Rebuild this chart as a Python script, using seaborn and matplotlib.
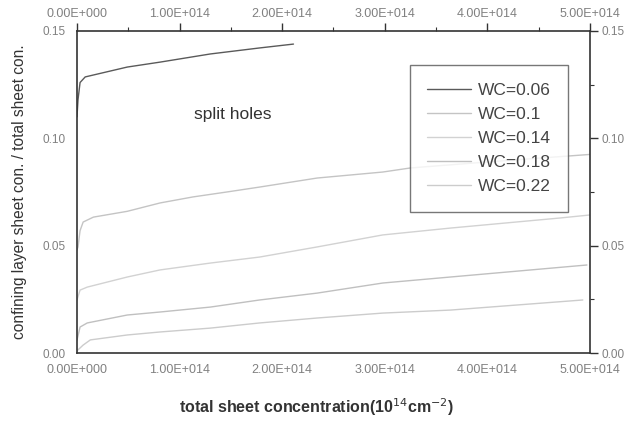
import numpy as np
import pandas as pd
import matplotlib
matplotlib.use("Agg")
import matplotlib.pyplot as plt
from matplotlib.ticker import MultipleLocator, FuncFormatter
from matplotlib.lines import Line2D
import seaborn as sns

# total sheet concentration in units of 1e14 cm^-2, confining-layer fraction
wc006_x = [0.0, 0.01, 0.03, 0.08, 0.49, 0.81, 1.30, 1.78, 2.11]
wc006_y = [0.110, 0.118, 0.126, 0.1286, 0.1332, 0.1355, 0.1393, 0.1421, 0.1439]

wc010_x = [0.0, 0.01, 0.03, 0.06, 0.16, 0.49, 0.81, 1.13, 1.46, 1.78, 2.34, 2.98, 3.25, 4.00, 5.00]
wc010_y = [0.048, 0.0494, 0.057, 0.061, 0.0633, 0.0660, 0.0699, 0.0727, 0.0750, 0.0773,
           0.0815, 0.0843, 0.0862, 0.0890, 0.0925]

wc014_x = [0.0, 0.03, 0.10, 0.49, 0.81, 1.30, 1.78, 2.34, 2.98, 3.64, 4.71, 5.00]
wc014_y = [0.0247, 0.0293, 0.0307, 0.0354, 0.0387, 0.0419, 0.0447, 0.0494, 0.0550, 0.0582,
           0.0629, 0.0643]

wc018_x = [0.0, 0.03, 0.10, 0.49, 0.81, 1.30, 1.78, 2.34, 2.98, 3.64, 4.97]
wc018_y = [0.006, 0.0121, 0.0140, 0.0177, 0.0191, 0.0214, 0.0247, 0.0279, 0.0326, 0.0354, 0.0410]

wc022_x = [0.0, 0.06, 0.13, 0.49, 0.81, 1.30, 1.78, 2.34, 2.98, 3.64, 4.93]
wc022_y = [0.001, 0.0037, 0.0061, 0.0084, 0.0098, 0.0116, 0.0140, 0.0163, 0.0186, 0.0200, 0.0247]

series_names = ["WC=0.06", "WC=0.1", "WC=0.14", "WC=0.18", "WC=0.22"]
series_x = [wc006_x, wc010_x, wc014_x, wc018_x, wc022_x]
series_y = [wc006_y, wc010_y, wc014_y, wc018_y, wc022_y]
line_colors = ["#5a5a5a", "#c4c4c4", "#d2d2d2", "#c0c0c0", "#cccccc"]

frames = []
for name, xs, ys in zip(series_names, series_x, series_y):
    frames.append(pd.DataFrame({"conc": np.array(xs) * 1e14, "ratio": ys, "WC": name}))
df = pd.concat(frames, ignore_index=True)

sns.set_style("white")
plt.rcParams["font.family"] = ["Liberation Sans", "DejaVu Sans"]

fig = plt.figure(figsize=(6.3, 4.21), dpi=100)
ax = fig.add_axes([0.1222, 0.1615, 0.8143, 0.7649])

palette = dict(zip(series_names, line_colors))
sns.lineplot(data=df, x="conc", y="ratio", hue="WC", palette=palette,
             linewidth=1.0, sort=False, estimator=None, legend=False, ax=ax)

ax.set_xlim(0, 5e14)
ax.set_ylim(0, 0.15)

ax.xaxis.set_major_locator(MultipleLocator(1e14))
ax.xaxis.set_minor_locator(MultipleLocator(0.5e14))
ax.yaxis.set_major_locator(MultipleLocator(0.05))
ax.yaxis.set_minor_locator(MultipleLocator(0.025))


def sci_fmt(v, pos):
    if v == 0:
        return "0.00E+000"
    exp = int(np.floor(np.log10(abs(v)) + 1e-9))
    return f"{v / 10**exp:.2f}E+{exp:03d}"


ax.xaxis.set_major_formatter(FuncFormatter(sci_fmt))
ax.yaxis.set_major_formatter(FuncFormatter(lambda v, p: f"{v:.2f}"))

ax.tick_params(which="both", direction="out", top=True, right=True,
               labeltop=True, labelright=True,
               labelcolor="#808080", color="#333333")
ax.tick_params(which="major", length=6, width=1.0, pad=2)
ax.tick_params(which="minor", length=3, width=0.8)
ax.tick_params(axis="x", which="major", labelsize=9)
ax.tick_params(axis="y", which="major", labelsize=8.5)

for sp in ax.spines.values():
    sp.set_visible(True)
    sp.set_color("#333333")
    sp.set_linewidth(1.2)

ax.set_xlabel("total sheet concentration(10$^{14}$cm$^{-2}$)", fontsize=11.5,
              fontweight="bold", color="#333333", va="center")
ax.xaxis.set_label_coords(0.466, -0.168)
ax.set_ylabel("confining layer sheet con. / total sheet con.", fontsize=11.2,
              color="#333333", labelpad=11)

ax.text(1.14e14, 0.1109, "split holes", fontsize=12.5, color="#333333",
        ha="left", va="center")

handles = [Line2D([0], [0], color=c, lw=1.0) for c in line_colors]
leg = ax.legend(handles, series_names, loc="upper left",
                bbox_to_anchor=(0.649, 0.894), frameon=True, fancybox=False,
                fontsize=12.5, handlelength=2.5, handletextpad=0.4,
                labelspacing=0.52, borderpad=1.0, borderaxespad=0)
leg.get_frame().set_edgecolor("#555555")
leg.get_frame().set_linewidth(1.0)
for t in leg.get_texts():
    t.set_color("#444444")

fig.savefig("out.png", dpi=100)
